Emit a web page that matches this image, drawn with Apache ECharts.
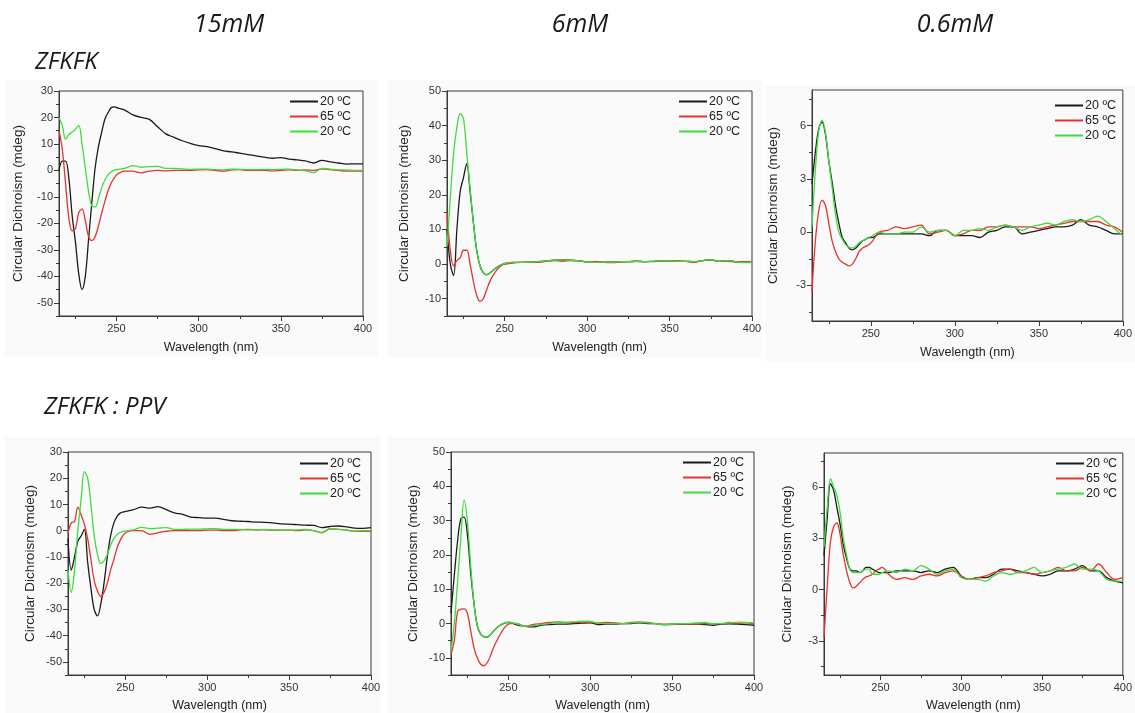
<!DOCTYPE html>
<html><head><meta charset="utf-8">
<script src="https://cdn.jsdelivr.net/npm/echarts@6/dist/echarts.min.js"></script>
<style>html,body{margin:0;padding:0;background:#fff}#c{width:1135px;height:713px}</style>
</head><body><div id="c"></div>
<script>
// ---------- DATA ----------
const wl = [215,217,219,221,223,225,227,229,231,233,235,237,239,241,243,245,247,249,251,255,260,265,270,275,280,285,290,295,300,305,310,315,320,325,330,335,340,345,350,355,360,365,370,375,380,385,390,395,400];

const legendNames = ['20 ºC','65 ºC','20 ºC '];
const colTitles = ['15mM','6mM','0.6mM'];
const rowTitles = ['ZFKFK','ZFKFK : PPV'];
const xName = 'Wavelength (nm)';
const yName = 'Circular Dichroism (mdeg)';

const xLabels = [250,300,350,400];
const xMinor = [225,275,325,375];
const yLabelsA = [-50,-40,-30,-20,-10,0,10,20,30];
const yMinorA = [-55,-45,-35,-25,-15,-5,5,15,25];
const yLabelsB = [-10,0,10,20,30,40,50];
const yMinorB = [-15,-5,5,15,25,35,45];
const yLabelsC = [-3,0,3,6];
const yMinorC = [-4.5,-1.5,1.5,4.5,7.5];

// ZFKFK 15mM
const p1Black = [0,3.5,3.5,-3,-17,-27,-39,-45,-40,-26,-12,1,9,14.5,19.5,22,23.8,24,23.5,22.8,21,20,19.3,16.5,13.8,12.5,11.2,10.2,9.4,9,8.2,7.4,7,6.5,6,5.5,5,4.6,4.8,4.3,4,3.6,2.8,3.8,3.2,2.8,2.4,2.5,2.5];
const p1Red = [15,8,-5,-18,-22.8,-22,-16,-14.5,-19,-25,-26.5,-25,-21,-16,-11.5,-7.5,-4.5,-2.5,-1.2,-0.3,-0.3,-0.9,-0.3,0,-0.2,0,0,0,0.2,0.3,0,-0.3,0.2,0.3,0,0,0,-0.2,0,0.2,0,0.2,0,0.6,0.3,0,-0.3,-0.3,-0.3];
const p1Green = [20,17,11.8,13.5,14.5,15.5,17,10,1,-8,-13.5,-13.8,-10.5,-6.5,-3.5,-1.5,-0.4,0.2,0.4,0.8,1.8,1.2,1.4,1.5,0.8,0.8,0.6,0.4,0.5,0.5,0.3,0.2,0.5,0.4,0.3,0.3,0.4,0.3,0.4,0.5,0.2,-0.2,-0.8,0.8,0.5,0.2,0.2,0,0];
// ZFKFK 6mM
const p2Black = [10,0,-3.3,10,21,25,29,21,12,4,-0.5,-2.5,-3.1,-2.6,-1.8,-1,-0.4,0,0.3,0.5,0.5,0.5,0.7,0.9,1.1,1.2,1.1,0.9,0.6,0.5,0.6,0.6,0.7,0.7,0.8,0.7,0.8,0.9,0.9,0.8,0.8,0.7,1,1.2,0.8,1,0.7,0.5,0.5];
const p2Red = [15,4,-0.5,1,1.8,4,4,0,-5,-9,-10.8,-10,-7.5,-5,-3.2,-1.8,-0.8,-0.2,0,0.3,0.5,0.6,0.5,0.8,1,0.8,1,1,0.5,0.8,0.5,0.4,0.6,0.7,0.9,0.7,0.7,1,1,1,0.8,0.5,1,1.2,0.8,0.8,0.6,0.7,0.6];
const p2Green = [5,19,32,39.5,43.5,42,32,22,12,4,-0.5,-2.5,-3.1,-2.6,-1.8,-1,-0.4,0,0.3,0.5,0.5,0.5,0.7,0.9,1.1,1.2,1.1,0.9,0.6,0.5,0.6,0.6,0.7,0.7,0.8,0.7,0.8,0.9,0.9,0.8,0.8,0.7,1,1.3,0.8,1,0.7,0.4,0.4];
// ZFKFK 0.6mM
const p3Black = [2.7,4.5,5.8,6.2,5.5,4,2.8,1.5,0.5,-0.3,-0.6,-0.9,-1,-0.9,-0.7,-0.5,-0.4,-0.3,-0.3,-0.1,-0.1,-0.1,-0.1,-0.1,-0.1,-0.2,0.1,0.1,-0.2,-0.2,-0.2,-0.3,0,0.1,0.3,0.3,-0.1,0,0.1,0.2,0.3,0.3,0.4,0.7,0.4,0.3,0.1,-0.1,-0.1];
const p3Red = [-3.3,-0.5,1.2,1.8,1.5,0.5,-0.5,-1.1,-1.5,-1.7,-1.8,-1.9,-1.8,-1.5,-1.1,-0.9,-0.8,-0.7,-0.5,0,0.1,0.3,0.2,0.3,0.4,-0.1,0,0.1,-0.2,-0.1,0.1,0.1,0.3,0.3,0.4,0.3,0.3,0.3,0.2,0.3,0.4,0.5,0.6,0.6,0.6,0.6,0.4,0.3,0];
const p3Green = [0.3,3.5,5.7,6.3,5.6,4,2.5,1,0,-0.4,-0.7,-0.85,-0.9,-0.8,-0.6,-0.5,-0.4,-0.3,-0.2,0,-0.1,-0.1,0,0,0.3,0,0.1,0.1,-0.2,0.1,0.1,0.2,0.1,0.3,0.4,0.3,0.1,0.3,0.4,0.5,0.4,0.6,0.7,0.6,0.7,0.9,0.6,0.2,-0.2];
// ZFKFK:PPV 15mM
const p4Black = [-3,-15,-10,-4,-2,0.5,-12,-22,-30,-32.5,-28,-20,-10,-2,3,5.5,6.8,7.2,7.5,8,9,8.6,9.2,8,6.8,6.2,5.2,5,4.8,4.8,4.3,3.8,3.6,3.5,3.3,3.2,3,2.6,2.5,2.3,2.1,2,1.2,1.6,1.8,1.5,1,0.9,1.2];
const p4Red = [-1,3,3.5,9,6,2.5,-3,-11,-19,-23,-25,-23.5,-20,-15,-11,-6.5,-3.5,-1.5,-0.5,0,0,-1.4,-0.8,-0.2,0,0,0,0,0.2,0.2,0,0,0.3,0.5,0.3,0.3,0.2,0.2,0.3,0,0.3,0,-0.8,0.7,0.5,0.2,-0.2,-0.2,-0.2];
const p4Green = [-15,-23.5,-15,0,12,22.5,20,10,-2,-9,-12.5,-11.5,-9,-5.5,-3,-1.5,-0.6,-0.2,0,0.3,1.3,0.8,1,1.2,0.5,0.5,0.6,0.6,0.7,0.8,0.5,0.5,0.5,0.3,0.3,0.5,0.4,0.3,0.2,0.3,0.5,0,-0.6,0.8,0.5,0.3,-0.2,0,0];
// ZFKFK:PPV 6mM
const p5Black = [3,14,24,30.5,31,26,15,6,-0.5,-3,-3.8,-4,-3.3,-2.2,-1.2,-0.5,0,0.3,0.3,-0.4,-0.8,-1,-0.5,-0.3,-0.2,-0.2,0,0.1,0.2,-0.3,-0.2,-0.2,0,0,0.2,0,0,-0.3,-0.2,-0.2,-0.2,-0.2,-0.3,-0.5,-0.2,-0.1,-0.2,-0.3,-0.5];
const p5Red = [-9,-5,3.5,4.2,4.3,3,-2,-7,-10,-11.8,-12.3,-11.5,-9.5,-7,-5,-3.2,-1.6,-0.5,0,0,-0.8,-0.3,0,0.3,0.5,0.3,0.3,0.4,0.3,0.2,0.3,0.2,0,0.3,0.4,0.3,0,-0.2,-0.3,-0.1,0,-0.2,0,0,0,0.3,0,0.2,0];
const p5Green = [-8,0,12,25,36,30,17,6,-0.5,-3,-3.8,-4,-3.3,-2.2,-1.2,-0.5,0,0.3,0.3,0,-0.8,-0.6,-0.3,0,0.3,0.3,0.5,0.7,0.6,0.1,0,0,0,0.2,0.4,0.2,0,-0.3,-0.2,0,0,0.2,0.3,0,0,0.2,0.4,0.3,0.2];
// ZFKFK:PPV 0.6mM
const p6Black = [2,4.2,6.2,5.8,4.8,3.8,2.6,1.8,1.2,1.1,1.1,1,1.1,1.3,1.3,1.2,1.1,1,1,1,1.1,1.1,1.1,1,1.1,1,1.2,1.3,0.8,0.6,0.7,0.7,0.9,1.2,1.2,1.1,1,0.9,0.8,0.9,1.1,1.1,1.2,1.4,1.1,1.1,0.7,0.5,0.4];
const p6Red = [-2.8,0.2,2.8,3.7,3.9,3.2,2,1.1,0.4,0.1,0.2,0.4,0.6,0.75,0.8,0.9,1.1,1.2,1.3,0.9,0.6,0.7,0.6,0.8,0.9,0.8,1,1.1,0.8,0.6,0.7,0.8,1,1.1,1.2,1,1,0.9,1,1.1,1.3,1.1,1.1,1.3,1.1,1.5,1,0.6,0.7];
const p6Green = [2.5,4.8,6.5,6,5.5,4.5,3,2,1.2,1,1,1,1.1,1.2,1.2,0.9,0.9,0.9,1,1.1,1,1.2,1.1,1.4,1.2,0.9,1.1,1.2,0.7,0.6,0.6,0.5,0.8,1,0.9,1,1.1,1.3,1,1.1,1.2,1.3,1.5,1.2,1.2,1.1,0.6,0.5,0.5];

// ---------- LAYOUT ----------
const FONT = '"Liberation Sans", Arial, sans-serif';
const COLORS = ['#1b1b1b', '#e5342e', '#3ddd3d'];
const AXIS = '#3a3a3a';

const panels = [
  {grid:{left:59, top:91, width:304, height:225}, y:[-55,30], yl:yLabelsA, ym:yMinorA, data:[p1Black,p1Red,p1Green], yGap:34, xGap:25, leg:{left:290, top:95}, bg:[5,80,373,276]},
  {grid:{left:447, top:91, width:305, height:225}, y:[-15,50], yl:yLabelsB, ym:yMinorB, data:[p2Black,p2Red,p2Green], yGap:36, xGap:25, leg:{left:679, top:95}, bg:[388,80,374,277]},
  {grid:{left:812, top:90, width:314, height:231}, y:[-5,8], yl:yLabelsC, ym:yMinorC, data:[p3Black,p3Red,p3Green], yGap:32, xGap:25, leg:{left:1055, top:99}, bg:[765,85,370,277]},
  {grid:{left:68, top:452, width:303, height:224}, y:[-55,30], yl:yLabelsA, ym:yMinorA, data:[p4Black,p4Red,p4Green], yGap:31, xGap:24, leg:{left:300, top:457}, bg:[5,437,375,276]},
  {grid:{left:451, top:452, width:303, height:224}, y:[-15,50], yl:yLabelsB, ym:yMinorB, data:[p5Black,p5Red,p5Green], yGap:31, xGap:24, leg:{left:683, top:456}, bg:[388,437,377,276]},
  {grid:{left:824, top:453, width:304, height:223}, y:[-5,8], yl:yLabelsC, ym:yMinorC, data:[p6Black,p6Red,p6Green], yGap:30, xGap:24, leg:{left:1056, top:457}, bg:[765,437,370,276]}
];

const grid = [], xAxis = [], yAxis = [], series = [], legend = [], graphic = [];
panels.forEach((p, i) => {
  grid.push(Object.assign({show:true, borderColor:AXIS, borderWidth:1, backgroundColor:'transparent'}, p.grid));
});
// major axes
panels.forEach((p, i) => {
  xAxis.push({type:'value', gridIndex:i, min:215, max:400, name:xName, nameLocation:'middle', nameGap:p.xGap,
    nameTextStyle:{fontFamily:FONT, fontSize:12.5, color:'#222'},
    axisLine:{show:true, onZero:false, lineStyle:{color:AXIS, width:1}},
    axisTick:{show:true, length:5, customValues:xLabels, lineStyle:{color:AXIS}},
    axisLabel:{customValues:xLabels, fontFamily:FONT, fontSize:11, color:'#333', margin:7},
    splitLine:{show:false}});
  yAxis.push({type:'value', gridIndex:i, min:p.y[0], max:p.y[1], name:yName, nameLocation:'middle', nameGap:p.yGap, nameRotate:90,
    nameTextStyle:{fontFamily:FONT, fontSize:13.5, color:'#222'},
    axisLine:{show:true, onZero:false, lineStyle:{color:AXIS, width:1}},
    axisTick:{show:true, length:5, customValues:p.yl, lineStyle:{color:AXIS}},
    axisLabel:{customValues:p.yl, fontFamily:FONT, fontSize:11, color:'#333', margin:6},
    splitLine:{show:false}});
});
// minor-tick overlay axes
panels.forEach((p, i) => {
  xAxis.push({type:'value', gridIndex:i, min:215, max:400, position:'bottom',
    axisLine:{show:false, onZero:false}, axisTick:{show:true, length:3, customValues:xMinor, lineStyle:{color:AXIS}},
    axisLabel:{show:false, customValues:xMinor}, splitLine:{show:false}});
  yAxis.push({type:'value', gridIndex:i, min:p.y[0], max:p.y[1], position:'left',
    axisLine:{show:false, onZero:false}, axisTick:{show:true, length:3, customValues:p.ym, lineStyle:{color:AXIS}},
    axisLabel:{show:false, customValues:p.ym}, splitLine:{show:false}});
});
panels.forEach((p, i) => {
  p.data.forEach((vals, k) => {
    series.push({type:'line', name:legendNames[k], xAxisIndex:i, yAxisIndex:i, showSymbol:false, smooth:0.35,
      lineStyle:{color:COLORS[k], width:1.3}, itemStyle:{color:COLORS[k]}, silent:true, animation:false,
      data: wl.map((x, j) => [x, vals[j]])});
  });
  legend.push({left:p.leg.left, top:p.leg.top, orient:'vertical', itemGap:2, itemWidth:28, itemHeight:2, icon:'rect',
    selectedMode:false, data:legendNames, textStyle:{fontFamily:FONT, fontSize:12.5, color:'#222', padding:[0,0,0,-3]}, padding:0});
  graphic.push({type:'rect', z:-10, silent:true, shape:{x:p.bg[0], y:p.bg[1], width:p.bg[2], height:p.bg[3]}, style:{fill:'#fafafa'}});
});
const titleFont = 'italic 25px "Open Sans", "Noto Sans", sans-serif';
const colX = [229, 580, 955];
colTitles.forEach((t, i) => graphic.push({type:'text', x:colX[i], y:25, style:{text:t, font:titleFont, fill:'#1a1a1a', align:'center', verticalAlign:'middle'}}));
graphic.push({type:'text', x:35, y:62, style:{text:rowTitles[0], font:'italic 24px "Open Sans", "Noto Sans", sans-serif', fill:'#1a1a1a', align:'left', verticalAlign:'middle'}});
graphic.push({type:'text', x:44, y:407, style:{text:rowTitles[1], font:'italic 24px "Open Sans", "Noto Sans", sans-serif', fill:'#1a1a1a', align:'left', verticalAlign:'middle'}});

const chart = echarts.init(document.getElementById('c'), null, {renderer:'canvas'});
chart.setOption({animation:false, backgroundColor:'#ffffff', grid, xAxis, yAxis, series, legend, graphic});
</script></body></html>
